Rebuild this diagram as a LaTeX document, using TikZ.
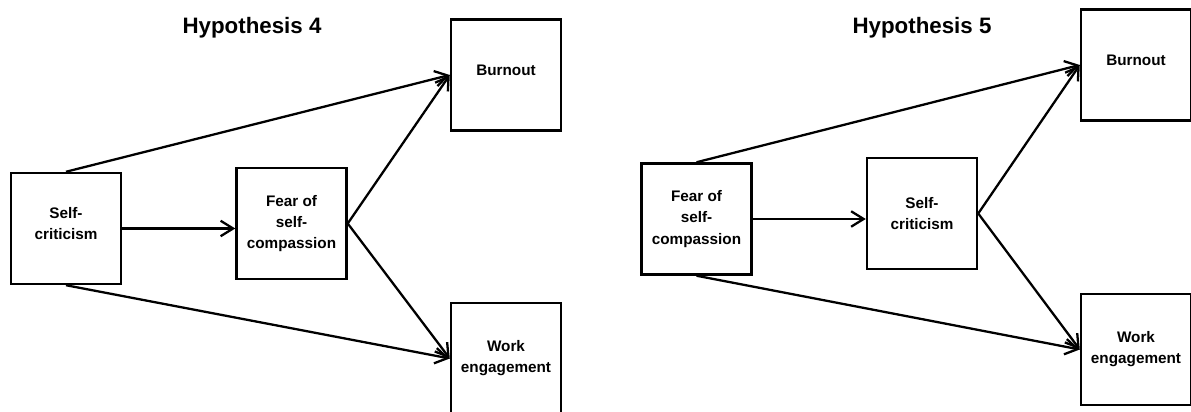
\documentclass[tikz,border=0pt]{standalone}
\usepackage{fontspec}
\setmainfont{Liberation Sans}
\usepackage{tikz}
\usetikzlibrary{arrows.meta,positioning}
\tikzset{
  varbox/.style={rectangle, draw=black, line width=1.4pt, minimum width=2.2cm,
                 minimum height=2.22cm, align=center, inner sep=1pt,
                 font=\fontsize{8.7}{12}\selectfont\bfseries},
  txtup/.style={execute at end node={\rule[-0.2cm]{0pt}{0pt}}},
  htitle/.style={font=\fontsize{12.7}{14}\selectfont\bfseries},
  arr/.style={-{Straight Barb[length=2.5mm, width=3.1mm, line width=1.3pt]}, line width=1.3pt},
}
\begin{document}
\begin{tikzpicture}
        \useasboundingbox (0,0) rectangle (23.82,8.24);
        % Hypothesis 4
        \node[htitle] (t4) at (5.04,7.68) {Hypothesis 4};
        \node[varbox, txtup] (sc) at (1.32,3.67) {Self-\\criticism};
        \node[varbox] (fe) at (5.83,3.77) {Fear of\\self-\\compassion};
        \node[varbox, txtup] (bo) at (10.12,6.74) {Burnout};
        \node[varbox] (we) at (10.12,1.07) {Work\\engagement};
        \draw[arr] (sc.north) -- (bo.west);
        \draw[arr] (sc.south) -- (we.west);
        \draw[arr] (sc.east) -- (sc.east -| fe.west);
        \draw[arr] (fe.east) -- (bo.west);
        \draw[arr] (fe.east) -- (we.west);
        % Hypothesis 5
        \node[htitle] (t5) at (18.44,7.68) {Hypothesis 5};
        \node[varbox] (fe2) at (13.93,3.86) {Fear of\\self-\\compassion};
        \node[varbox] (sc2) at (18.44,3.97) {Self-\\criticism};
        \node[varbox, txtup] (bo2) at (22.72,6.94) {Burnout};
        \node[varbox] (we2) at (22.72,1.25) {Work\\engagement};
        \draw[arr] (fe2.north) -- (bo2.west);
        \draw[arr] (fe2.south) -- (we2.west);
        \draw[arr] (fe2.east) -- (fe2.east -| sc2.west);
        \draw[arr] (sc2.east) -- (bo2.west);
        \draw[arr] (sc2.east) -- (we2.west);
      \end{tikzpicture}
\end{document}
